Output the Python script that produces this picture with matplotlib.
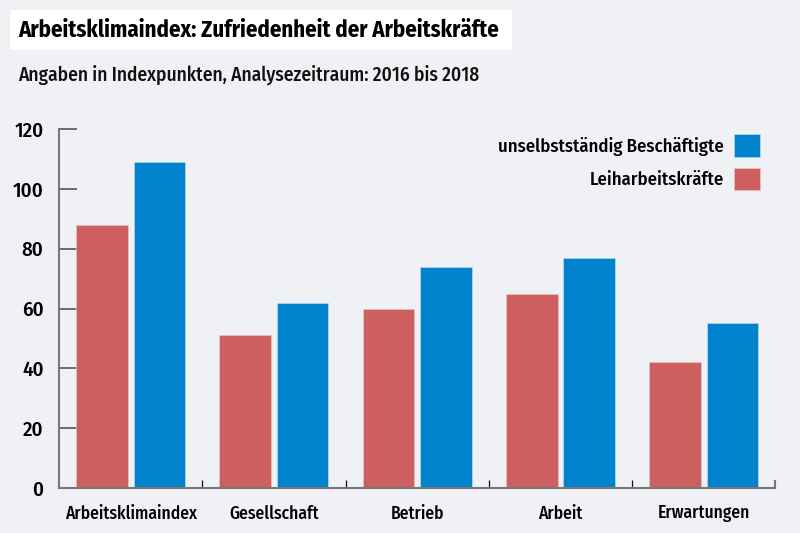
import matplotlib
matplotlib.use("Agg")
import matplotlib.pyplot as plt
from matplotlib import font_manager
from matplotlib.patches import Patch, Rectangle
import numpy as np

categories = ["Arbeitsklimaindex", "Gesellschaft", "Betrieb", "Arbeit", "Erwartungen"]
leiharbeit = [88, 51, 60, 65, 42]
unselbst = [109, 62, 74, 77, 55]
yticks = [0, 20, 40, 60, 80, 100, 120]

title = "Arbeitsklimaindex: Zufriedenheit der Arbeitskräfte"
subtitle = "Angaben in Indexpunkten, Analysezeitraum: 2016 bis 2018"
label_unselbst = "unselbstständig Beschäftigte"
label_leih = "Leiharbeitskräfte"

bg = "#eff1f5"
red = "#cd5f5f"
blue = "#0082cd"

# narrow humanist font if one is there
names = {f.name for f in font_manager.fontManager.ttflist}
fam = "DejaVu Sans"
for cand in ["Fira Sans Condensed", "PT Sans Narrow", "Roboto Condensed",
             "Open Sans Condensed", "Encode Sans Condensed", "Liberation Sans Narrow",
             "Archivo Narrow", "Asap Condensed"]:
    if cand in names:
        fam = cand
        break
plt.rcParams["font.family"] = [fam, "DejaVu Sans"]

W, H = 800, 533
fig = plt.figure(figsize=(8, 5.33), dpi=100, facecolor=bg)
ax = fig.add_axes([0.07375, 0.0844, 0.8955, 0.6736])
ax.set_facecolor(bg)

x = np.arange(len(categories))
w = 0.36
ax.bar(x - 0.2, leiharbeit, w, color=red, edgecolor="#e8c4c4", linewidth=0.5, zorder=2)
ax.bar(x + 0.2, unselbst, w, color=blue, edgecolor="#b8d8ee", linewidth=0.5, zorder=2)

ax.set_xlim(-0.5, len(categories) - 0.5)
ax.set_ylim(0, 120)

for s in ["top", "right"]:
    ax.spines[s].set_visible(False)
for s in ["left", "bottom"]:
    ax.spines[s].set_color("#77777c")
    ax.spines[s].set_linewidth(1.5)

ax.set_yticks(yticks)
ax.set_yticklabels([str(v) for v in yticks], fontsize=15, fontweight="medium")
ax.tick_params(axis="y", direction="in", length=13, width=1.2, color="#555555", pad=11)

ax.set_xticks(x)
ax.set_xticklabels(categories, fontsize=12.6, fontweight="medium")
ax.tick_params(axis="x", which="major", length=0, pad=12)
ax.set_xticks(np.arange(0.5, len(categories) - 0.5, 1.0), minor=True)
ax.tick_params(axis="x", which="minor", direction="in", length=6, width=0.9, color="#111111")
ax.plot([len(categories) - 0.5] * 2, [0, 2.2], color="#77777c", lw=1.5, clip_on=False, zorder=3)

handles = [Patch(facecolor=blue, edgecolor="#b8d8ee", linewidth=0.5),
           Patch(facecolor=red, edgecolor="#e8c4c4", linewidth=0.5)]
ax.legend(handles, [label_unselbst, label_leih], loc="upper right",
          bbox_to_anchor=(0.979, 0.985), frameon=False, markerfirst=False,
          handlelength=1.4, handleheight=1.45, labelspacing=0.6,
          handletextpad=0.55, borderpad=0, borderaxespad=0,
          prop=dict(family=[fam, "DejaVu Sans"], size=13.5, weight="medium"))

# white title box
fig.patches.append(Rectangle((10 / W, 1 - 50 / H), 502 / W, 40 / H, transform=fig.transFigure,
                             facecolor="white", edgecolor="none", zorder=0))
fig.text(18 / W, 1 - 30 / H, title, fontsize=16.4, fontweight="bold", va="center", ha="left",
         zorder=2)
fig.text(18 / W, 0.859, subtitle, fontsize=14, fontweight="medium", va="center", ha="left",
         color="#111111")

fig.savefig("out.png", dpi=100, facecolor=bg)
